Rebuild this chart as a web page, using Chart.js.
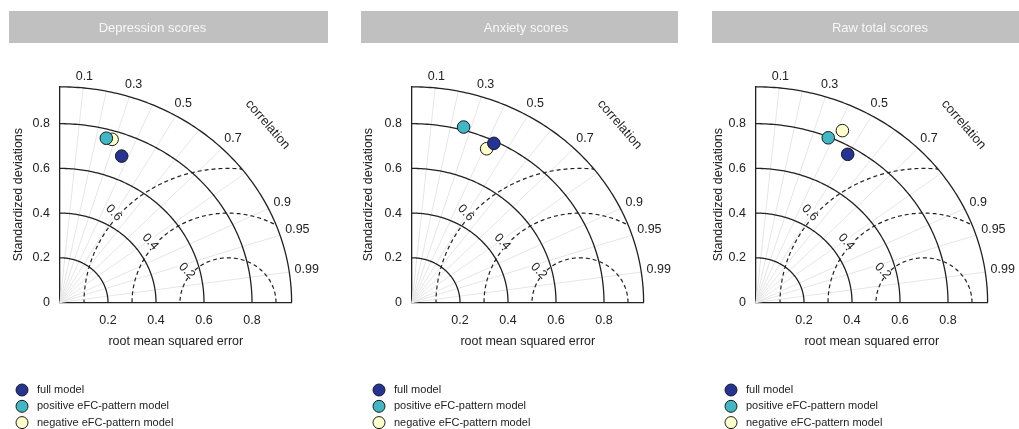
<!DOCTYPE html>
<html><head><meta charset="utf-8">
<script src="https://cdn.jsdelivr.net/npm/chart.js@4.4.0/dist/chart.umd.min.js"></script>
<style>
html,body{margin:0;padding:0;background:#fff;width:1019px;height:429px;overflow:hidden;}
canvas{position:absolute;top:0;}
</style></head><body>
<canvas id="c0"></canvas>
<canvas id="c1"></canvas>
<canvas id="c2"></canvas>
<script>
// ---------- data ----------
const panelTitles = ['Depression scores', 'Anxiety scores', 'Raw total scores'];
const modelNames = ['full model', 'positive eFC-pattern model', 'negative eFC-pattern model'];
const modelColors = ['#253494', '#41b6c4', '#ffffcc'];
// x: position along the "root mean squared error" axis, y: standardized deviation
const depressionX = [0.257, 0.193, 0.217];
const depressionY = [0.655, 0.735, 0.730];
const anxietyX = [0.341, 0.215, 0.311];
const anxietyY = [0.712, 0.785, 0.688];
const rawTotalX = [0.382, 0.301, 0.360];
const rawTotalY = [0.663, 0.737, 0.769];
const xTickValues = [0.2, 0.4, 0.6, 0.8];
const xTickLabels = ['0.2', '0.4', '0.6', '0.8'];
const yTickValues = [0, 0.2, 0.4, 0.6, 0.8];
const yTickLabels = ['0', '0.2', '0.4', '0.6', '0.8'];
const stdArcs = [0.2, 0.4, 0.6, 0.8];
const stdMax = 0.965;
const rmsArcs = [0.2, 0.4, 0.6];
const rmsLabels = ['0.2', '0.4', '0.6'];
const rmsRef = 0.7;
const corrGrid = [0.1, 0.2, 0.3, 0.4, 0.5, 0.6, 0.7, 0.8, 0.9, 0.95, 0.99];
const corrTicks = [0.1, 0.3, 0.5, 0.7, 0.9, 0.95, 0.99];
const corrTickLabels = ['0.1', '0.3', '0.5', '0.7', '0.9', '0.95', '0.99'];

const panelX = [depressionX, anxietyX, rawTotalX];
const panelY = [depressionY, anxietyY, rawTotalY];

// ---------- layout (page pixels) ----------
const FONT = "'Liberation Sans', Arial, sans-serif";
const layouts = [
  {left: 0,   width: 350, barX0: 9,   barX1: 328,  titleX: 152.5, legX: 22,  yTitlePad: 11},
  {left: 352, width: 344, barX0: 361, barX1: 678,  titleX: 526,   legX: 379, yTitlePad: 9},
  {left: 696, width: 323, barX0: 712, barX1: 1019, titleX: 880,   legX: 731, yTitlePad: 14.8}
];
const ORIGIN_OFFSET = 60, ORIGIN_Y = 302.5, PX_X = 240, PX_Y = 223.5;

function P(chart, x, y) {
  return [chart.scales.x.getPixelForValue(x), chart.scales.y.getPixelForValue(y)];
}
function polyArc(ctx, chart, cx, r, a0, a1, n, move) {
  for (let i = 0; i <= n; i++) {
    const a = a0 + (a1 - a0) * i / n;
    const p = P(chart, cx + r * Math.cos(a), r * Math.sin(a));
    if (i === 0 && move) ctx.moveTo(p[0], p[1]); else ctx.lineTo(p[0], p[1]);
  }
}

const taylorPlugin = {
  id: 'taylor',
  beforeDraw(chart) {
    const L = chart.options.plugins.taylor;
    const ctx = chart.ctx;
    ctx.save();
    ctx.fillStyle = '#c0c0c0';
    ctx.fillRect(L.barX0 - L.left, 11, L.barX1 - L.barX0, 32);
    ctx.fillStyle = '#f7f7f7';
    ctx.font = "13px " + FONT;
    ctx.textAlign = 'center';
    ctx.textBaseline = 'middle';
    ctx.fillText(L.title, L.titleX - L.left, 28);
    ctx.restore();
  },
  beforeDatasetsDraw(chart) {
    const ctx = chart.ctx;
    const o = P(chart, 0, 0);
    ctx.save();
    // correlation radial lines
    ctx.strokeStyle = '#e6e6e6';
    ctx.lineWidth = 1;
    corrGrid.forEach(c => {
      const a = Math.acos(c);
      const p = P(chart, stdMax * Math.cos(a), stdMax * Math.sin(a));
      ctx.beginPath(); ctx.moveTo(o[0], o[1]); ctx.lineTo(p[0], p[1]); ctx.stroke();
    });
    // dashed RMS arcs clipped to the outer sector
    ctx.save();
    ctx.beginPath();
    ctx.moveTo(o[0], o[1]);
    polyArc(ctx, chart, 0, stdMax, 0, Math.PI / 2, 120, false);
    ctx.closePath();
    ctx.clip();
    ctx.strokeStyle = '#222';
    ctx.lineWidth = 1.2;
    ctx.setLineDash([4, 3]);
    rmsArcs.forEach(r => {
      ctx.beginPath();
      polyArc(ctx, chart, rmsRef, r, 0, Math.PI, 160, true);
      ctx.stroke();
    });
    ctx.restore();
    // labels of dashed arcs
    ctx.font = "12.5px " + FONT;
    ctx.textAlign = 'center';
    ctx.textBaseline = 'middle';
    const phi = 139.5 * Math.PI / 180;
    rmsArcs.forEach((r, i) => {
      const rr = r + 0.022;
      const p = P(chart, rmsRef + rr * Math.cos(phi), rr * Math.sin(phi));
      const rot = Math.atan2(-PX_Y * Math.cos(phi), PX_X * Math.sin(phi));
      ctx.save();
      ctx.translate(p[0], p[1]);
      ctx.rotate(rot);
      const w = ctx.measureText(rmsLabels[i]).width;
      ctx.fillStyle = '#fff';
      ctx.fillRect(-w / 2 - 1, -5, w + 2, 10);
      ctx.fillStyle = '#222';
      ctx.fillText(rmsLabels[i], 0, 1);
      ctx.restore();
    });
    // std arcs
    ctx.setLineDash([]);
    ctx.strokeStyle = '#222';
    ctx.lineWidth = 1.3;
    stdArcs.concat([stdMax]).forEach(r => {
      ctx.beginPath();
      polyArc(ctx, chart, 0, r, 0, Math.PI / 2, 120, true);
      ctx.stroke();
    });
    // correlation tick labels
    ctx.fillStyle = '#222';
    ctx.font = "12.5px " + FONT;
    ctx.textAlign = 'center';
    ctx.textBaseline = 'middle';
    corrTicks.forEach((c, i) => {
      const a = Math.acos(c);
      const p = P(chart, 0.985 * Math.cos(a), 0.985 * Math.sin(a));
      const dx = PX_X * Math.cos(a), dy = -PX_Y * Math.sin(a);
      const len = Math.hypot(dx, dy);
      const ux = dx / len, uy = dy / len;
      const w = ctx.measureText(corrTickLabels[i]).width / 2, h = 6;
      const off = w * Math.abs(ux) + h * Math.abs(uy);
      ctx.fillText(corrTickLabels[i], p[0] + ux * off, p[1] + uy * off);
    });
    // "correlation" label
    ctx.font = "13px " + FONT;
    const q = P(chart, 0.865, 0.796);
    ctx.save();
    ctx.translate(q[0], q[1]);
    ctx.rotate(49 * Math.PI / 180);
    ctx.fillText('correlation', 0, 0);
    ctx.restore();
    ctx.restore();
  },
  afterDraw(chart) {
    const L = chart.options.plugins.taylor;
    const ctx = chart.ctx;
    ctx.save();
    ctx.font = "11px " + FONT;
    ctx.textAlign = 'left';
    ctx.textBaseline = 'middle';
    chart.data.datasets.forEach((ds, k) => {
      const y = 390 + k * 16.3;
      const x = L.legX - L.left;
      ctx.beginPath();
      ctx.arc(x, y, 6, 0, Math.PI * 2);
      ctx.fillStyle = ds.backgroundColor;
      ctx.fill();
      ctx.strokeStyle = '#1a1a1a';
      ctx.lineWidth = 1;
      ctx.stroke();
      ctx.fillStyle = '#222';
      ctx.fillText(ds.label, x + 15, y);
    });
    ctx.restore();
  }
};

function makeChart(i) {
  const L = layouts[i];
  const cv = document.getElementById('c' + i);
  cv.width = L.width; cv.height = 429;
  cv.style.left = L.left + 'px';
  cv.style.width = L.width + 'px'; cv.style.height = '429px';
  const font = {family: FONT, size: 12.5};
  const datasets = modelNames.map((name, k) => ({
    label: name,
    data: [{x: panelX[i][k], y: panelY[i][k]}],
    backgroundColor: modelColors[k],
    borderColor: '#1a1a1a',
    borderWidth: 1,
    pointRadius: 6.3,
    pointHoverRadius: 6.3
  }));
  const topPad = ORIGIN_Y - stdMax * PX_Y;
  const rightPad = L.width - ORIGIN_OFFSET - stdMax * PX_X;
  return new Chart(cv, {
    type: 'scatter',
    data: {datasets},
    plugins: [taylorPlugin],
    options: {
      responsive: false,
      animation: false,
      devicePixelRatio: 1,
      layout: {padding: {top: topPad, right: rightPad, bottom: 0, left: 0}, autoPadding: false},
      plugins: {
        legend: {display: false},
        tooltip: {enabled: false},
        title: {display: false},
        taylor: Object.assign({title: panelTitles[i]}, L)
      },
      scales: {
        x: {
          type: 'linear', min: 0, max: stdMax,
          afterBuildTicks: s => { s.ticks = xTickValues.map(v => ({value: v})); },
          afterFit: s => { s.height = 429 - ORIGIN_Y; },
          ticks: {callback: (v, idx) => xTickLabels[idx], padding: 11, font, color: '#222', maxRotation: 0, autoSkip: false},
          grid: {display: false, drawTicks: false},
          border: {display: true, color: '#222', width: 1.3},
          title: {display: true, text: 'root mean squared error', font, color: '#222', padding: {top: 0, bottom: 79.8}}
        },
        y: {
          type: 'linear', min: 0, max: stdMax,
          afterBuildTicks: s => { s.ticks = yTickValues.map(v => ({value: v})); },
          afterFit: s => { s.width = ORIGIN_OFFSET; },
          ticks: {callback: (v, idx) => yTickLabels[idx], padding: 10, font, color: '#222', autoSkip: false},
          grid: {display: false, drawTicks: false},
          border: {display: true, color: '#222', width: 1.3},
          title: {display: true, text: 'Standardized deviations', font, color: '#222', padding: {top: L.yTitlePad, bottom: 0}}
        }
      }
    }
  });
}
[0, 1, 2].forEach(makeChart);
</script>
</body></html>
